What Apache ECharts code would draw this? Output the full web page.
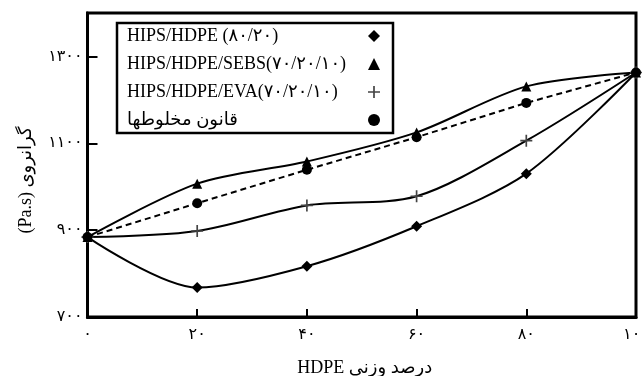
<!DOCTYPE html>
<html><head><meta charset="utf-8">
<script src="https://cdn.jsdelivr.net/npm/echarts@6/dist/echarts.min.js"></script>
<style>html,body{margin:0;padding:0;background:#fff}#c{width:643px;height:376px}</style>
</head><body><div id="c"></div>
<script>
var xValues = [0, 20, 40, 60, 80, 100];
var xTickLabels = ['۰', '۲۰', '۴۰', '۶۰', '۸۰', '۱۰۰'];
var yTickValues = [700, 900, 1100, 1300];
var yTickLabels = ['۷۰۰', '۹۰۰', '۱۱۰۰', '۱۳۰۰'];
var seriesNames = ['HIPS/HDPE (۸۰/۲۰)', 'HIPS/HDPE/SEBS(۷۰/۲۰/۱۰)', 'HIPS/HDPE/EVA(۷۰/۲۰/۱۰)', 'قانون مخلوطها'];
var hipsHdpe = [884, 768, 817, 909, 1030, 1263];
var hipsHdpeSebs = [884, 1007, 1058, 1125, 1231, 1263];
var hipsHdpeEva = [884, 898, 957, 978, 1106, 1263];
var mixtureRule = [884, 962, 1039, 1114, 1193, 1263];

var plusPath = 'path://M4.3,0 L5.7,0 L5.7,4.3 L10,4.3 L10,5.7 L5.7,5.7 L5.7,10 L4.3,10 L4.3,5.7 L0,5.7 L0,4.3 L4.3,4.3 Z';
var FONT = '"Liberation Serif", "DejaVu Serif", "DejaVu Sans", serif';

function pairs(arr) { return xValues.map(function (x, i) { return [x, arr[i]]; }); }
function xLabel(v) { var i = xValues.indexOf(v); return i >= 0 ? xTickLabels[i] : ''; }
function yLabel(v) { var i = yTickValues.indexOf(v); return i >= 0 ? yTickLabels[i] : ''; }

var chart = echarts.init(document.getElementById('c'), null, {renderer: 'canvas'});
chart.setOption({
  animation: false,
  backgroundColor: '#fff',
  textStyle: {fontFamily: FONT, color: '#000'},
  grid: {left: 87.5, right: 7, top: 13, bottom: 59, show: true, borderColor: '#000', borderWidth: 3,
    backgroundColor: 'transparent', outerBoundsMode: 'none', containLabel: false},
  legend: {
    left: 117, top: 23, orient: 'vertical', align: 'right',
    backgroundColor: '#fff',
    borderColor: '#000', borderWidth: 2.5, borderRadius: 0,
    padding: [4, 13, 4, 10],
    itemGap: 10, itemWidth: 12, itemHeight: 12,
    selectedMode: false,
    formatter: function (n) { return '{a|' + n + '}'; },
    textStyle: {fontFamily: FONT, fontSize: 18, color: '#000',
      rich: {a: {fontFamily: FONT, fontSize: 18, color: '#000', width: 236, align: 'left'}}},
    data: [
      {name: seriesNames[0], icon: 'diamond'},
      {name: seriesNames[1], icon: 'triangle'},
      {name: seriesNames[2], icon: plusPath, itemStyle: {color: '#444'}},
      {name: seriesNames[3], icon: 'circle'}
    ]
  },
  xAxis: {
    type: 'value', min: 0, max: 100, interval: 20,
    name: 'HDPE درصد وزنی', nameLocation: 'middle', nameGap: 42,
    nameTextStyle: {fontFamily: FONT, fontSize: 18, color: '#000', padding: [0, 0, 0, 6]},
    axisLine: {show: true, lineStyle: {color: '#000', width: 3}},
    axisTick: {show: true, inside: true, length: 8, lineStyle: {color: '#000', width: 2}},
    axisLabel: {formatter: xLabel, fontSize: 16, color: '#000', margin: 10, fontFamily: FONT},
    splitLine: {show: false}
  },
  yAxis: {
    type: 'value', min: 700, max: 1400, interval: 100,
    name: '(Pa.s) گرانروی', nameLocation: 'middle', nameGap: 52, nameRotate: 90,
    nameTextStyle: {fontFamily: FONT, fontSize: 18, color: '#000', padding: [0, 30, 0, 0]},
    axisLine: {show: true, lineStyle: {color: '#000', width: 3}},
    axisTick: {show: true, inside: true, length: 10, customValues: yTickValues, lineStyle: {color: '#000', width: 2}},
    axisLabel: {customValues: yTickValues, formatter: yLabel, fontSize: 16, color: '#000', margin: 5, fontFamily: FONT},
    splitLine: {show: false}
  },
  series: [
    {name: seriesNames[0], type: 'line', data: pairs(hipsHdpe), smooth: 0.3, symbol: 'diamond', symbolSize: 11,
      lineStyle: {color: '#000', width: 2}, itemStyle: {color: '#000'}, z: 3},
    {name: seriesNames[1], type: 'line', data: pairs(hipsHdpeSebs), smooth: 0.3, symbol: 'triangle', symbolSize: 10,
      lineStyle: {color: '#000', width: 2}, itemStyle: {color: '#000'}, z: 3},
    {name: seriesNames[2], type: 'line', data: pairs(hipsHdpeEva), smooth: 0.3, symbol: plusPath, symbolSize: 12,
      lineStyle: {color: '#000', width: 2}, itemStyle: {color: '#444'}, z: 3},
    {name: seriesNames[3], type: 'line', data: pairs(mixtureRule), smooth: false, symbol: 'circle', symbolSize: 10,
      lineStyle: {color: '#000', width: 2, type: [6, 4]}, itemStyle: {color: '#000'}, z: 3}
  ]
});
</script></body></html>
